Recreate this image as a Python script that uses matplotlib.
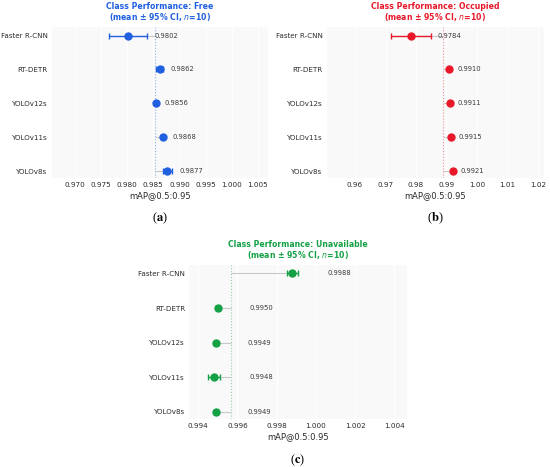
import numpy as np
import matplotlib
matplotlib.use("Agg")
import matplotlib.pyplot as plt

models = ["Faster R-CNN", "RT-DETR", "YOLOv12s", "YOLOv11s", "YOLOv8s"]

free_mean = [0.9802, 0.9862, 0.9856, 0.9868, 0.9877]
free_ci = [0.0036, 0.0006, 0.0001, 0.0003, 0.0009]

occupied_mean = [0.9784, 0.9910, 0.9911, 0.9915, 0.9921]
occupied_ci = [0.0066, 0.0003, 0.0002, 0.0003, 0.0003]

unavail_mean = [0.9988, 0.9950, 0.9949, 0.9948, 0.9949]
unavail_ci = [0.0003, 0.0001, 0.0001, 0.0003, 0.0001]

panels = [
    dict(name="Free", mean=free_mean, ci=free_ci, color="#1f5fe0",
         xlim=(0.9656, 1.0069), ticks=np.arange(0.970, 1.0051, 0.005),
         fmt="{:.3f}", off=0.0015, rect=[0.094, 0.619, 0.393, 0.323], cap="a"),
    dict(name="Occupied", mean=occupied_mean, ci=occupied_ci, color="#e8182a",
         xlim=(0.9507, 1.022), ticks=np.arange(0.96, 1.0201, 0.01),
         fmt="{:.2f}", off=0.0022, rect=[0.594, 0.619, 0.395, 0.323], cap="b"),
    dict(name="Unavailable", mean=unavail_mean, ci=unavail_ci, color="#14a045",
         xlim=(0.99354, 1.00464), ticks=np.arange(0.994, 1.00401, 0.002),
         fmt="{:.3f}", off=0.0015, rect=[0.344, 0.103, 0.396, 0.330], cap="c"),
]

fig = plt.figure(figsize=(5.5, 4.67), dpi=100)
fig.patch.set_facecolor("white")

for p in panels:
    ax = fig.add_axes(p["rect"])
    ax.set_facecolor("#f9f9f9")
    y = np.arange(len(models))
    overall = np.mean(p["mean"])

    # overall mean reference line + connectors
    ax.axvline(overall, color=p["color"], lw=0.8, ls=":", alpha=0.45, zorder=1)
    ax.hlines(y, overall, p["mean"], color="#c8c8c8", lw=0.8, zorder=1)
    ax.errorbar(p["mean"], y, xerr=p["ci"], fmt="o", color=p["color"],
                ms=5, lw=1, capsize=2.5, capthick=1, zorder=3)
    for yi, m, c in zip(y, p["mean"], p["ci"]):
        ax.text(m + c + p["off"], yi, f"{m:.4f}", fontsize=4.9, color="#3a3a3a",
                va="center", ha="left")

    ax.set_xlim(*p["xlim"])
    ax.set_ylim(4.2, -0.25)
    ax.set_yticks(y)
    ax.set_yticklabels(models, fontsize=5.1, color="#2a2a2a")
    ax.set_xticks(p["ticks"])
    ax.set_xticklabels([p["fmt"].format(t) for t in p["ticks"]], fontsize=5.2,
                       color="#2a2a2a")
    ax.tick_params(length=0, pad=3)
    ax.grid(axis="x", color="white", lw=0.8)
    ax.set_axisbelow(True)
    for s in ax.spines.values():
        s.set_visible(False)
    ax.set_xlabel("mAP@0.5:0.95", fontsize=6, color="#2a2a2a", labelpad=2)
    ax.set_title(f"Class Performance: {p['name']}\n(mean ± 95% CI, $n$=10)",
                 fontsize=5.6, fontweight="bold", color=p["color"], pad=5,
                 linespacing=1.0)
    ax.text(0.5, -0.27, "(" + r"$\mathbf{" + p["cap"] + "}$" + ")",
            transform=ax.transAxes, ha="center", va="center", fontsize=9,
            family="Liberation Serif", math_fontfamily="stix")

fig.savefig("out.png", dpi=100)
